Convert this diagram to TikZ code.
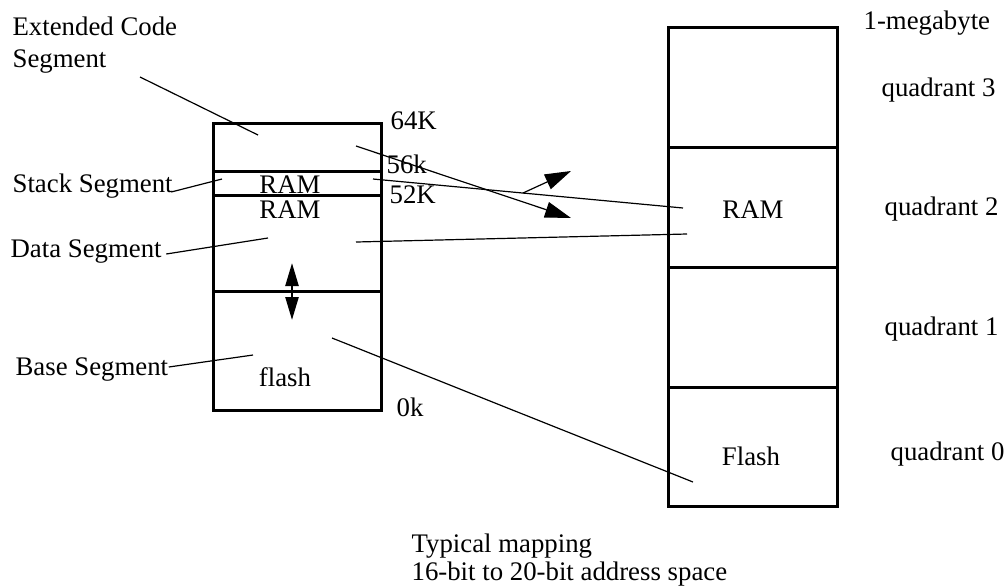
\documentclass[tikz,border=0pt]{standalone}
\usepackage{fontspec}
\setmainfont{Liberation Serif}
\usetikzlibrary{arrows.meta}

\begin{document}
\begin{tikzpicture}[x=0.5pt, y=-0.5pt, >={Triangle[length=13pt, width=8pt]}, line width=0.6pt,
    font=\fontsize{13.4pt}{15pt}\selectfont,
    seg/.style={draw, line width=1.4pt, inner sep=0, anchor=north west},
    lbl/.style={inner sep=0, anchor=base west},
    mid/.style={inner sep=0, anchor=base}]
  \useasboundingbox (0,0) rectangle (1007,585);

  % 16-bit logical space
  \node[seg, minimum width=84pt, minimum height=24pt] (code)  at (212,122) {};
  \node[seg, minimum width=84pt, minimum height=12pt] (stack) at (212,170) {};
  \node[seg, minimum width=84pt, minimum height=48pt] (data)  at (212,194) {};
  \node[seg, minimum width=84pt, minimum height=59.5pt] (base) at (212,290) {};

  % 1-megabyte physical space
  \node[seg, minimum width=84.5pt, minimum height=60pt] (q3) at (667,26) {};
  \node[seg, minimum width=84.5pt, minimum height=60pt] (q2) at (667,146) {};
  \node[seg, minimum width=84.5pt, minimum height=60pt] (q1) at (667,266) {};
  \node[seg, minimum width=84.5pt, minimum height=59.5pt] (q0) at (667,386) {};

  % texts in the boxes
  \node[mid] (ram1)  at (290,193) {RAM};
  \node[mid] (ram2)  at (290,218) {RAM};
  \node[mid] (flsh)  at (285,386) {flash};
  \node[mid] (ramq)  at (753,218) {RAM};
  \node[mid] (flshq) at (751,465) {Flash};

  % addresses
  \node[lbl] (k64) at (390,129) {64K};
  \node[lbl] (k56) at (386,173) {56k};
  \node[lbl] (k52) at (389,203) {52K};
  \node[lbl] (k0)  at (396,416) {0k};

  % segment names
  \node[lbl] (extlbl)   at (12,35) {Extended Code};
  \node[lbl] (extlbl2)  at (12,67) {Segment};
  \node[lbl] (stacklbl) at (12,192) {Stack Segment};
  \node[lbl] (datalbl)  at (10,257) {Data Segment};
  \node[lbl] (baselbl)  at (15,375) {Base Segment};

  % quadrants
  \node[lbl] (mega) at (863,29) {1-megabyte};
  \node[lbl] (qd3)  at (881,96) {quadrant 3};
  \node[lbl] (qd2)  at (884,215) {quadrant 2};
  \node[lbl] (qd1)  at (884,335) {quadrant 1};
  \node[lbl] (qd0)  at (890,460) {quadrant 0};

  \node[lbl] (cap1) at (411,552) {Typical mapping};
  \node[lbl] (cap2) at (411,580) {16-bit to 20-bit address space};

  % leader lines
  \coordinate (extA)   at (140,77);
  \coordinate (extB)   at (258,135);
  \coordinate (stackB) at (222,179);
  \coordinate (dataB)  at (268,238);
  \coordinate (baseB)  at (253,355);
  \draw (extA) -- (extB);
  \draw ([xshift=-1pt]stacklbl.base east) -- (stackB);
  \draw ([xshift=2pt,yshift=1.5pt]datalbl.base east) -- (dataB);
  \draw ([yshift=4pt]baselbl.base east) -- (baseB);

  % mapping lines
  \coordinate (codeA)  at (356,146);
  \coordinate (codeB)  at (571,218);
  \coordinate (xing)   at (523,193);
  \coordinate (upB)    at (571,171);
  \coordinate (stackC) at (373,179);
  \coordinate (stackD) at (683,208);
  \coordinate (dataC)  at (356,242);
  \coordinate (dataD)  at (687,234);
  \coordinate (baseC)  at (332,338);
  \coordinate (baseD)  at (693,482);
  \draw[->] (codeA) -- (codeB);
  \draw[->] (xing) -- (upB);
  \draw (stackC) -- (stackD);
  \draw (dataC) -- (dataD);
  \draw (baseC) -- (baseD);

  % growth arrow
  \coordinate (grA) at (292,263);
  \coordinate (grB) at (292,320);
  \draw[{Triangle[length=11.5pt, width=6.5pt]}-{Triangle[length=11.5pt, width=6.5pt]}, line width=1.2pt] (grA) -- (grB);
\end{tikzpicture}
\end{document}
